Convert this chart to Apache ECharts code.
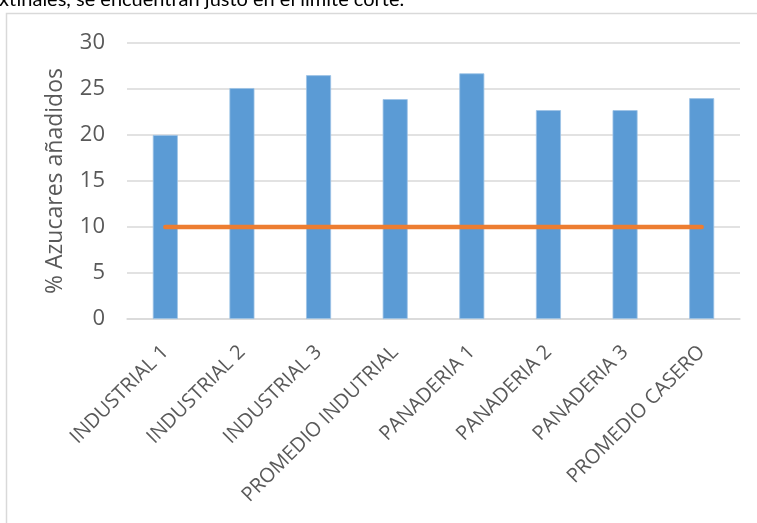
<!DOCTYPE html>
<html><head><meta charset="utf-8">
<script src="https://cdn.jsdelivr.net/npm/echarts@6/dist/echarts.min.js"></script>
<style>html,body{margin:0;padding:0;background:#fff}#c{width:757px;height:523px}</style>
</head><body><div id="c"></div>
<script>
const categories = ["INDUSTRIAL 1","INDUSTRIAL 2","INDUSTRIAL 3","PROMEDIO INDUTRIAL","PANADERIA 1","PANADERIA 2","PANADERIA 3","PROMEDIO CASERO"];
const azucares = [20, 25.1, 26.5, 23.9, 26.7, 22.7, 22.7, 24.0];
const limite = [10, 10, 10, 10, 10, 10, 10, 10];
const yTicks = {min: 0, max: 30, interval: 5};
const yName = "% Azucares añadidos";
const caption = "xtinales, se encuentran justo en el límite corte.";

const FONT = "Open Sans";
const chart = echarts.init(document.getElementById('c'), null, {renderer: 'canvas'});
chart.setOption({
  animation: false,
  backgroundColor: '#fff',
  textStyle: {fontFamily: FONT},
  graphic: [
    {type: 'rect', shape: {x: 6.5, y: 13.5, width: 900, height: 700}, style: {fill: 'none', stroke: '#d9d9d9', lineWidth: 1.5}, z: 0},
    {type: 'text', left: -1, top: -10, style: {text: caption, fill: '#000', font: '20px Lato'}, z: 10}
  ],
  grid: {left: 127, right: 17, top: 43, bottom: 204, containLabel: false},
  xAxis: {
    type: 'category', data: categories,
    axisLine: {show: true, lineStyle: {color: '#d9d9d9', width: 1.5}},
    axisTick: {show: false},
    axisLabel: {rotate: 45, margin: 30, color: '#595959', fontSize: 20, fontFamily: FONT, interval: 0}
  },
  yAxis: {
    type: 'value', min: yTicks.min, max: yTicks.max, interval: yTicks.interval,
    name: yName, nameLocation: 'middle', nameGap: 60, nameRotate: 90,
    nameTextStyle: {color: '#595959', fontSize: 23, fontFamily: FONT},
    axisLine: {show: false}, axisTick: {show: false},
    axisLabel: {margin: 22, color: '#595959', fontSize: 22, fontFamily: FONT},
    splitLine: {lineStyle: {color: '#d9d9d9', width: 1.5}}
  },
  series: [
    {type: 'bar', data: azucares, barWidth: 25, itemStyle: {color: '#5B9BD5', borderColor: '#9DC3E6', borderWidth: 0.8}, z: 2},
    {type: 'line', data: limite, symbol: 'none', lineStyle: {color: '#ED7D31', width: 4.5, cap: 'round'}, z: 3}
  ]
});
</script></body></html>
